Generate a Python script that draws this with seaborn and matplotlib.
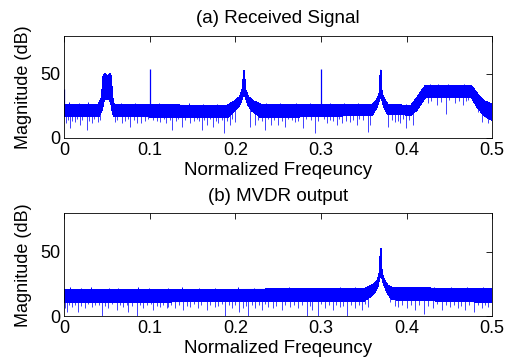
import numpy as np
import pandas as pd
import matplotlib
matplotlib.use('Agg')
import matplotlib.pyplot as plt
import seaborn as sns

# --- (a) Received Signal: noise band envelope (dB) ---
freq_a = [0.0, 0.040, 0.044, 0.0455, 0.047, 0.050, 0.053, 0.0545, 0.056, 0.058,
          0.190, 0.200, 0.205, 0.2085, 0.210, 0.2115, 0.215, 0.220, 0.230,
          0.360, 0.365, 0.3685, 0.3698, 0.371, 0.374, 0.378,
          0.405, 0.412, 0.418, 0.422, 0.476, 0.482, 0.490, 0.500]
upper_a = [26, 26, 32, 48, 50, 48, 50, 48, 32, 26,
           25, 29, 32, 38, 52.3, 38, 32, 29, 26,
           26, 29, 35, 53, 35, 30, 26,
           25, 31, 37, 40.5, 40.5, 35, 29, 26]
lower_a = [17, 17, 22, 28, 30, 31, 30, 28, 22, 17,
           16, 22, 26, 33, 48, 33, 26, 21, 16,
           18, 24, 31, 48, 31, 24, 19,
           18, 22, 28, 32, 32, 25, 18, 14]

# tall narrow tones
tone_f_a = [0.0, 0.0997, 0.2995]
tone_v_a = [38, 53.7, 53.7]

# deep downward noise dips
dip_f_a = [0.002, 0.0067, 0.0125, 0.018, 0.026, 0.032, 0.039, 0.059, 0.067, 0.077,
           0.085, 0.090, 0.112, 0.119, 0.1255, 0.137, 0.147, 0.1606, 0.1665, 0.174,
           0.180, 0.187, 0.1937, 0.1996, 0.217, 0.223, 0.2346, 0.2416, 0.250, 0.258,
           0.2697, 0.2794, 0.2935, 0.3067, 0.3184, 0.3243, 0.334, 0.3418, 0.3547, 0.3574,
           0.378, 0.3866, 0.3924, 0.3995, 0.408,
           0.4256, 0.4353, 0.4459, 0.4567, 0.4665, 0.4723,
           0.488, 0.4957, 0.4995]
dip_v_a = [11.5, 7.6, 12.8, 10.2, 6.2, 11.5, 12.8, 12.8, 11.5, 8.9,
           11.5, 12.0, 12.8, 11.5, 6.2, 8.9, 11.5, 6.2, 10.2, 8.9,
           11.5, 3.7, 10.2, 12.8, 8.9, 10.2, 6.2, 10.2, 10.2, 8.9,
           12.8, 7.6, 3.7, 11.5, 10.2, 11.5, 12.8, 10.2, 4.9, 10.2,
           8.9, 12.8, 11.5, 7.6, 10.2,
           27, 25.7, 18.8, 27, 25.7, 29.5,
           12.8, 11.5, 7.8]

# shallow dips along the lower edge
shallow_f_a = [0.004, 0.009, 0.015, 0.021, 0.029, 0.035, 0.042, 0.062, 0.071, 0.074,
               0.081, 0.094, 0.098, 0.104, 0.108, 0.116, 0.123, 0.130, 0.133, 0.141,
               0.151, 0.155, 0.158, 0.163, 0.170, 0.177, 0.184, 0.190, 0.196, 0.226,
               0.231, 0.238, 0.245, 0.254, 0.262, 0.266, 0.273, 0.283, 0.288, 0.297,
               0.303, 0.310, 0.314, 0.321, 0.329, 0.338, 0.345, 0.349, 0.383, 0.390,
               0.396, 0.403, 0.429, 0.440, 0.450, 0.461, 0.469, 0.484, 0.492]
shallow_v_a = [14, 13, 15, 14, 13.5, 14.5, 14, 14, 13, 15,
               14, 13.5, 15, 14, 13, 14.5, 14, 13, 15, 14,
               13.5, 14.5, 13, 14, 15, 13.5, 14, 13, 15, 14,
               13, 14.5, 14, 13.5, 15, 14, 13, 14.5, 14, 13,
               15, 14, 13.5, 14.5, 13, 14, 15, 14, 14, 13.5,
               15, 14, 29, 28, 30, 28.5, 29, 20, 16]

# small upward tips on the upper edge
tip_f_a = [0.006, 0.017, 0.028, 0.066, 0.083, 0.111, 0.128, 0.146, 0.162, 0.178,
           0.236, 0.252, 0.271, 0.287, 0.311, 0.327, 0.343, 0.388, 0.399,
           0.428, 0.437, 0.448, 0.458, 0.467]
tip_v_a = [28, 27.5, 27.8, 27.5, 27, 27.3, 26.8, 27, 26.5, 26.8,
           27, 27.3, 27.5, 27, 27.2, 27.5, 27, 26.5, 26.8,
           42, 41.8, 42.2, 41.6, 42]

# --- (b) MVDR output ---
freq_b = [0.0, 0.350, 0.355, 0.362, 0.366, 0.3688, 0.3698, 0.371, 0.374, 0.378, 0.383, 0.500]
upper_b = [20.5, 21, 22.5, 25, 28, 34, 52.3, 34, 28, 24, 22, 21]
lower_b = [11, 12, 14, 18, 23, 31, 48, 31, 24, 18, 13, 11]

dip_f_b = [0.001, 0.0028, 0.0086, 0.0164, 0.0242, 0.032, 0.0437, 0.0514, 0.0612, 0.069,
           0.0748, 0.0846, 0.0924, 0.104, 0.1119, 0.1197, 0.1216, 0.1294, 0.139, 0.147,
           0.1567, 0.1665, 0.1762, 0.1879, 0.1957, 0.2042, 0.2093, 0.2151, 0.223, 0.2308,
           0.2385, 0.2443, 0.2541, 0.2639, 0.2736, 0.2834, 0.2892, 0.2962, 0.3048, 0.3145,
           0.3223, 0.3308, 0.3398, 0.3477, 0.3554, 0.3808, 0.3905, 0.4003, 0.410, 0.4209,
           0.4314, 0.4412, 0.4509, 0.4606, 0.4684, 0.479, 0.488, 0.4957]
dip_v_b = [6.0, 3.4, 7.3, 3.4, 6.0, 7.3, 0.0, 6.0, 4.7, 7.3,
           3.4, 0.0, 6.0, 4.7, 7.3, 6.0, 7.3, 6.0, 4.7, 7.3,
           6.0, 4.7, 7.3, 0.0, 6.0, 3.4, 6.0, 0.0, 6.0, 4.7,
           7.3, 6.0, 4.7, 7.3, 6.0, 0.0, 4.7, 0.0, 6.0, 4.7,
           7.3, 0.0, 6.0, 4.7, 7.3, 11.2, 7.3, 6.0, 4.7, 1.6,
           6.0, 4.7, 7.3, 6.0, 4.7, 2.9, 6.0, 7.3]

shallow_f_b = [0.005, 0.012, 0.020, 0.028, 0.036, 0.040, 0.047, 0.056, 0.065, 0.073,
               0.079, 0.088, 0.097, 0.101, 0.108, 0.115, 0.125, 0.134, 0.143, 0.151,
               0.160, 0.170, 0.180, 0.184, 0.192, 0.200, 0.212, 0.219, 0.227, 0.235,
               0.248, 0.258, 0.268, 0.278, 0.287, 0.300, 0.309, 0.318, 0.326, 0.335,
               0.344, 0.352, 0.386, 0.395, 0.405, 0.415, 0.425, 0.436, 0.446, 0.455,
               0.464, 0.473, 0.483, 0.492]
shallow_v_b = [8.5, 9, 8, 9.5, 8.5, 9, 8, 9.5, 8.5, 9,
               8, 9, 8.5, 9.5, 8, 9, 8.5, 9, 8, 9.5,
               8.5, 9, 8, 9.5, 8.5, 9, 8, 9, 8.5, 9.5,
               8, 9, 8.5, 9, 8, 9.5, 8.5, 9, 8, 9,
               8.5, 9.5, 8, 9, 8.5, 9, 8, 9.5, 8.5, 9,
               8, 9, 8.5, 9]

tip_f_b = [0.007, 0.019, 0.031, 0.052, 0.063, 0.086, 0.099, 0.121, 0.138, 0.157,
           0.176, 0.203, 0.222, 0.241, 0.263, 0.282, 0.304, 0.322, 0.340,
           0.392, 0.411, 0.432, 0.452, 0.471, 0.489]
tip_v_b = [22.5, 22, 22.8, 22.3, 22, 22.5, 22.2, 22, 22.6, 22.3,
           22, 22.5, 22.2, 22, 22.7, 22.3, 22, 22.5, 22.8,
           23, 22.5, 23, 22.6, 22.8, 22.4]

xticks = [0, 0.1, 0.2, 0.3, 0.4, 0.5]
xticklabels = ['0', '0.1', '0.2', '0.3', '0.4', '0.5']
yticks = [0, 50]

sns.set_style('white')
plt.rcParams['font.family'] = ['Liberation Sans', 'DejaVu Sans']
blue = '#0000ff'

fig = plt.figure(figsize=(5.15, 3.63), dpi=100)
ax1 = fig.add_axes([0.1249, 0.620, 0.8306, 0.282])
ax2 = fig.add_axes([0.1249, 0.129, 0.8306, 0.283])


def draw_panel(ax, f, up, lo, dip_f, dip_v, sh_f, sh_v, tip_f, tip_v, title):
    band = pd.DataFrame({'f': f, 'up': up, 'lo': lo})
    # closed outline of the noise band, filled
    xs = np.concatenate([band['f'].values, band['f'].values[::-1]])
    ys = np.concatenate([band['up'].values, band['lo'].values[::-1]])
    ax.fill(xs, ys, facecolor=blue, edgecolor=blue, linewidth=0.6, antialiased=False)
    sns.lineplot(data=band, x='f', y='up', ax=ax, color=blue, lw=0.7)
    sns.lineplot(data=band, x='f', y='lo', ax=ax, color=blue, lw=0.7)
    ax.vlines(sh_f, sh_v, np.interp(sh_f, f, lo) + 1, color=blue, lw=0.7, alpha=0.75)
    ax.vlines(dip_f, dip_v, np.interp(dip_f, f, lo) + 1, color=blue, lw=0.7, alpha=0.75)
    ax.vlines(tip_f, np.interp(tip_f, f, up) - 1, tip_v, color=blue, lw=0.7)
    ax.set_xlim(0, 0.5)
    ax.set_ylim(0, 80)
    ax.set_xticks(xticks)
    ax.set_xticklabels(xticklabels)
    ax.set_yticks(yticks)
    ax.tick_params(direction='in', top=True, right=True, length=4, width=0.6,
                   labelsize=13, colors='black', pad=3)
    for s in ax.spines.values():
        s.set_color('black')
        s.set_linewidth(0.6)
    ax.set_xlabel('Normalized Freqeuncy', fontsize=13.5, color='black', labelpad=2)
    ax.set_ylabel('Magnitude (dB)', fontsize=13, color='black', labelpad=6)
    ax.set_title(title, fontsize=13.5, color='black', pad=9)


draw_panel(ax1, freq_a, upper_a, lower_a, dip_f_a, dip_v_a,
           shallow_f_a, shallow_v_a, tip_f_a, tip_v_a, '(a) Received Signal')
ax1.vlines(tone_f_a, 20, tone_v_a, color=blue, lw=0.9)
draw_panel(ax2, freq_b, upper_b, lower_b, dip_f_b, dip_v_b,
           shallow_f_b, shallow_v_b, tip_f_b, tip_v_b, '(b) MVDR output')

plt.savefig('out.png', dpi=100)
